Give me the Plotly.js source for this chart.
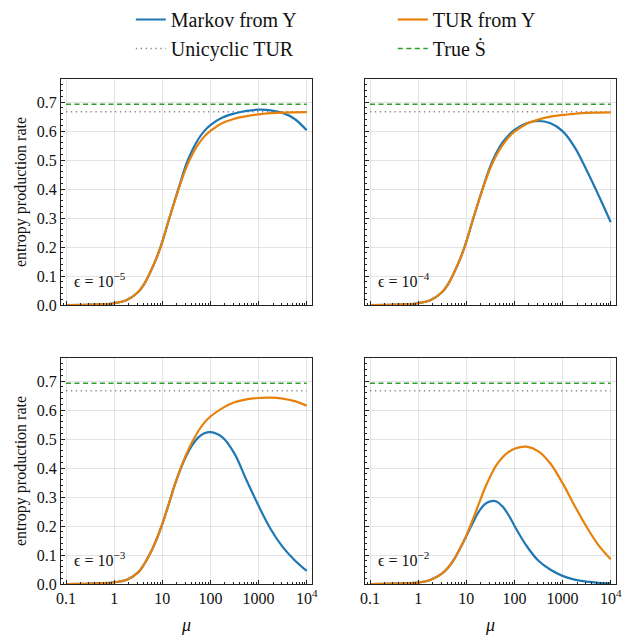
<!DOCTYPE html>
<html>
<head>
<meta charset="utf-8">
<script src="https://cdn.plot.ly/plotly-3.0.1.min.js"></script>
<style>html,body{margin:0;padding:0;background:#fff;overflow:hidden;}#chart{width:635px;height:635px;}</style>
</head>
<body>
<div id="chart"></div>
<script>
// mu grid (log-spaced)
const mu = [0.1, 0.316, 1, 1.78, 3.16, 4.22, 5.62, 7.5, 10, 13.3, 17.8, 23.7, 31.6, 42.2, 56.2, 75, 100, 178, 316, 562, 1000, 1780, 3160, 5620, 10000];

const markov_e5 = [0,0.001,0.006,0.016,0.045,0.073,0.113,0.16,0.218,0.287,0.356,0.422,0.487,0.535,0.573,0.601,0.621,0.647,0.661,0.67,0.674,0.672,0.663,0.642,0.603];
const tur_e5    = [0,0.001,0.006,0.016,0.045,0.073,0.113,0.16,0.218,0.287,0.355,0.418,0.475,0.52,0.555,0.582,0.601,0.628,0.643,0.652,0.658,0.662,0.664,0.665,0.666];

const markov_e4 = [0,0.001,0.006,0.016,0.045,0.073,0.113,0.16,0.218,0.287,0.355,0.42,0.479,0.525,0.56,0.585,0.604,0.627,0.635,0.627,0.6,0.545,0.465,0.378,0.286];
const tur_e4    = [0,0.001,0.006,0.016,0.045,0.073,0.113,0.16,0.218,0.287,0.355,0.417,0.473,0.517,0.551,0.578,0.598,0.625,0.64,0.65,0.656,0.66,0.663,0.664,0.665];

const markov_e3 = [0,0.001,0.006,0.014,0.04,0.069,0.106,0.152,0.207,0.27,0.338,0.395,0.443,0.48,0.506,0.52,0.524,0.506,0.45,0.358,0.27,0.19,0.128,0.082,0.045];
const tur_e3    = [0,0.001,0.006,0.014,0.04,0.069,0.106,0.152,0.207,0.27,0.338,0.397,0.448,0.492,0.528,0.557,0.578,0.607,0.627,0.637,0.642,0.643,0.64,0.631,0.615];

const markov_e2 = [0,0.001,0.005,0.014,0.037,0.057,0.086,0.124,0.165,0.207,0.247,0.274,0.285,0.285,0.268,0.239,0.201,0.132,0.08,0.049,0.028,0.015,0.008,0.004,0.002];
const tur_e2    = [0,0.001,0.005,0.014,0.037,0.057,0.086,0.124,0.167,0.218,0.272,0.326,0.372,0.41,0.437,0.455,0.467,0.474,0.458,0.415,0.348,0.27,0.197,0.133,0.085];

const refX = [0.1, 10000];
const unicyclicTUR = 0.667;
const trueSdot = 0.693;

const epsLabels = ['10<sup>\u22125</sup>','10<sup>\u22124</sup>','10<sup>\u22123</sup>','10<sup>\u22122</sup>'];
const xTickVals = [0.1, 1, 10, 100, 1000, 10000];
const xTickText = ['0.1','1','10','100','1000','10<sup>4</sup>'];
const yTickVals = [0,0.1,0.2,0.3,0.4,0.5,0.6,0.7];

const BLUE = '#1f77b4', ORANGE = '#e8800c', GREEN = '#2ca02c', GRAY = '#888888';
const SERIF = '"Liberation Serif", "Times New Roman", Times, serif';

const panels = [
  {m: markov_e5, t: tur_e5, eps: epsLabels[0]},
  {m: markov_e4, t: tur_e4, eps: epsLabels[1]},
  {m: markov_e3, t: tur_e3, eps: epsLabels[2]},
  {m: markov_e2, t: tur_e2, eps: epsLabels[3]}
];

const traces = [];
panels.forEach((p, i) => {
  const xa = i === 0 ? 'x' : 'x' + (i + 1);
  const ya = i === 0 ? 'y' : 'y' + (i + 1);
  const show = i === 0;
  traces.push({x: refX, y: [unicyclicTUR, unicyclicTUR], xaxis: xa, yaxis: ya, mode: 'lines',
    name: 'Unicyclic TUR', legendrank: 3, showlegend: show, line: {color: GRAY, width: 1.3, dash: '1.3px,3.6px'}});
  traces.push({x: refX, y: [trueSdot, trueSdot], xaxis: xa, yaxis: ya, mode: 'lines',
    name: 'True \u1E60', legendrank: 4, showlegend: show, line: {color: GREEN, width: 1.6, dash: '5px,3.5px'}});
  traces.push({x: mu, y: p.m, xaxis: xa, yaxis: ya, mode: 'lines',
    name: 'Markov from Y', legendrank: 1, showlegend: show, line: {color: BLUE, width: 2.2, shape: 'spline', smoothing: 1}});
  traces.push({x: mu, y: p.t, xaxis: xa, yaxis: ya, mode: 'lines',
    name: 'TUR from Y', legendrank: 2, showlegend: show, line: {color: ORANGE, width: 2.2, shape: 'spline', smoothing: 1}});
});

const W = 635;
const xd1 = [61/W, 312/W], xd2 = [365/W, 616/W];
const ydTop = [1 - 305/W, 1 - 79/W], ydBot = [1 - 584/W, 1 - 358/W];

function xaxis(domain, anchor, labels) {
  return {
    type: 'log', domain: domain, anchor: anchor, range: [-1.104, 4.11], automargin: false,
    tickvals: xTickVals, ticktext: xTickText, showticklabels: labels,
    ticks: 'inside', ticklen: 4, tickcolor: '#222',
    minor: {ticks: 'inside', ticklen: 2, tickcolor: '#222', dtick: 'D1', showgrid: false},
    showgrid: true, gridcolor: '#e3e3e3', gridwidth: 1,
    showline: true, linecolor: '#222', linewidth: 1, mirror: true, zeroline: false,
    tickfont: {family: SERIF, size: 16, color: '#111'},
    title: labels ? {text: '<i>\u03BC</i>', font: {family: SERIF, size: 18, color: '#111'}, standoff: 12} : {text: ''}
  };
}
function yaxis(domain, anchor, labels) {
  return {
    domain: domain, anchor: anchor, range: [0, 0.78], automargin: false,
    tickvals: yTickVals, tickformat: '.1f', showticklabels: labels,
    ticks: 'inside', ticklen: 4, tickcolor: '#222',
    minor: {ticks: 'inside', ticklen: 2, tickcolor: '#222', dtick: 0.02, showgrid: false},
    showgrid: true, gridcolor: '#e3e3e3', gridwidth: 1,
    showline: true, linecolor: '#222', linewidth: 1, mirror: true, zeroline: false,
    tickfont: {family: SERIF, size: 16, color: '#111'},
    title: labels ? {text: 'entropy production rate', font: {family: SERIF, size: 16, color: '#111'}, standoff: 6} : {text: ''}
  };
}

const annotations = panels.map((p, i) => ({
  xref: (i === 0 ? 'x' : 'x' + (i + 1)) + ' domain',
  yref: (i === 0 ? 'y' : 'y' + (i + 1)) + ' domain',
  x: 0.045, y: 0.11, xanchor: 'left', yanchor: 'middle', showarrow: false,
  text: '\u03F5 = ' + p.eps,
  font: {family: SERIF, size: 16, color: '#111'}
}));

const layout = {
  width: 635, height: 635,
  margin: {l: 0, r: 0, t: 0, b: 0, autoexpand: false},
  paper_bgcolor: '#fff', plot_bgcolor: '#fff',
  showlegend: true,
  legend: {
    orientation: 'h', x: 0.206, y: 1.0, xanchor: 'left', yanchor: 'top',
    entrywidth: 217, entrywidthmode: 'pixels', traceorder: 'normal',
    font: {family: SERIF, size: 20, color: '#111'}, bgcolor: 'rgba(0,0,0,0)'
  },
  xaxis: xaxis(xd1, 'y', false),
  yaxis: yaxis(ydTop, 'x', true),
  xaxis2: xaxis(xd2, 'y2', false),
  yaxis2: yaxis(ydTop, 'x2', false),
  xaxis3: xaxis(xd1, 'y3', true),
  yaxis3: yaxis(ydBot, 'x3', true),
  xaxis4: xaxis(xd2, 'y4', true),
  yaxis4: yaxis(ydBot, 'x4', false),
  annotations: annotations
};

Plotly.newPlot('chart', traces, layout, {displayModeBar: false, staticPlot: true});
</script>
</body>
</html>
